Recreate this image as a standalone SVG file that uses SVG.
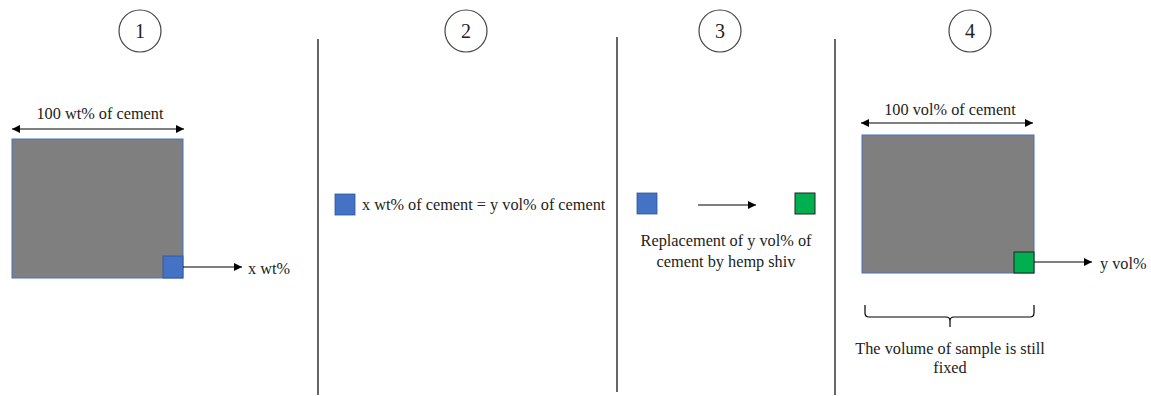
<svg xmlns="http://www.w3.org/2000/svg" width="1151" height="396" viewBox="0 0 1151 396">
<defs>
<marker id="ah" viewBox="0 0 10 10" refX="10" refY="5" markerWidth="8" markerHeight="8" markerUnits="userSpaceOnUse" orient="auto-start-reverse"><path d="M0,0 L10,5 L0,10 z" fill="#000"/></marker>
<style>
text{font-family:"Liberation Serif","DejaVu Serif",serif;font-size:16.3px;fill:#222}
.num{font-size:20px;text-anchor:middle}
.c{text-anchor:middle}
.circ{fill:#fff;stroke:#444;stroke-width:1.2}
.big{fill:#7F7F7F;stroke:#4472C4;stroke-width:1}
.blue{fill:#4472C4;stroke:#2F5597;stroke-width:0.8}
.green{fill:#00B050;stroke:#222;stroke-width:1}
.ln{stroke:#000;stroke-width:1.2;fill:none}
.div{stroke:#000;stroke-width:1.2}
</style>
</defs>
<rect width="1151" height="396" fill="#fff"/>
<g id="dividers">
<line class="div" x1="318" y1="39" x2="318" y2="395"/>
<line class="div" x1="617" y1="37" x2="617" y2="392"/>
<line class="div" x1="835" y1="39" x2="835" y2="395"/>
</g>
<g id="step1">
<circle class="circ" cx="140" cy="31" r="21"/>
<text class="num" x="140" y="38">1</text>
<text class="c" x="100" y="119">100 wt% of cement</text>
<rect class="big" x="12" y="139" width="171" height="139"/>
<rect class="blue" x="163" y="256" width="20" height="22"/>
<text x="248" y="274">x wt%</text>
</g>
<g id="step2">
<circle class="circ" cx="466" cy="31" r="21"/>
<text class="num" x="466" y="38">2</text>
<rect class="blue" x="335" y="194" width="20" height="21"/>
<text x="362" y="210">x wt% of cement = y vol% of cement</text>
</g>
<g id="step3">
<circle class="circ" cx="720" cy="31" r="21"/>
<text class="num" x="720" y="38">3</text>
<rect class="blue" x="637" y="193" width="20" height="21"/>
<rect class="green" x="795" y="193" width="20" height="21"/>
<text class="c" x="726" y="246">Replacement of y vol% of</text>
<text class="c" x="726" y="267">cement by hemp shiv</text>
</g>
<g id="step4">
<circle class="circ" cx="970" cy="31" r="21"/>
<text class="num" x="970" y="38">4</text>
<text class="c" x="950" y="115">100 vol% of cement</text>
<rect class="big" x="862" y="135" width="172" height="138"/>
<rect class="green" x="1014" y="252" width="20" height="21"/>
<text x="1100" y="269">y vol%</text>
<path class="ln" stroke-width="1" d="M865,305 L865,313 Q865,317 869,317 L946,317 Q950,317 950,321 L950,327 M950,321 Q950,317 954,317 L1030,317 Q1034,317 1034,313 L1034,305"/>
<text class="c" x="950" y="354">The volume of sample is still</text>
<text class="c" x="950" y="373">fixed</text>
</g>
<g id="connectors">
<line class="ln" x1="12" y1="129" x2="184" y2="129" marker-start="url(#ah)" marker-end="url(#ah)"/>
<line class="ln" x1="183" y1="267" x2="242" y2="267" marker-end="url(#ah)"/>
<line class="ln" x1="698" y1="205" x2="756" y2="205" marker-end="url(#ah)"/>
<line class="ln" x1="861" y1="123" x2="1033" y2="123" marker-start="url(#ah)" marker-end="url(#ah)"/>
<line class="ln" x1="1034" y1="262" x2="1092" y2="262" marker-end="url(#ah)"/>
</g>
</svg>
